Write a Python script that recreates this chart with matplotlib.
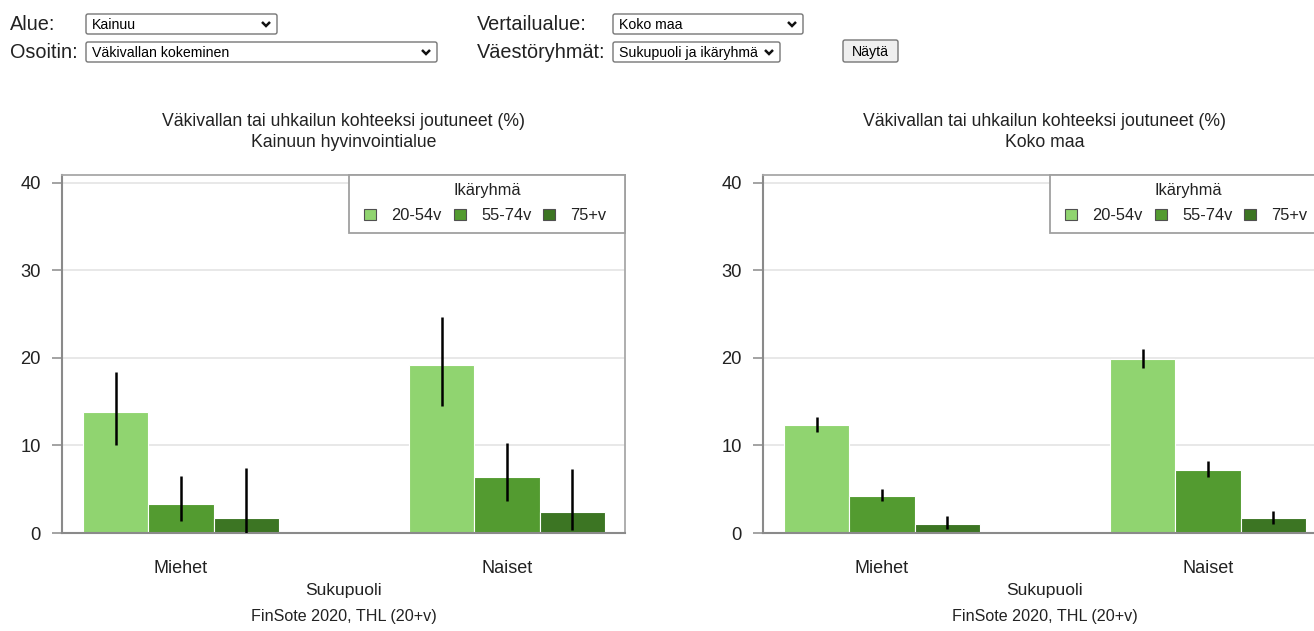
import matplotlib
matplotlib.use("Agg")
import matplotlib.pyplot as plt
import numpy as np
from matplotlib.patches import Rectangle, FancyBboxPatch

plt.rcParams["font.family"] = ["Liberation Sans", "DejaVu Sans"]

# ---- data -------------------------------------------------------------
groups = ["Miehet", "Naiset"]
age_groups = ["20-54v", "55-74v", "75+v"]
age_colors = ["#90d470", "#539b30", "#3c7523"]
y_ticks = [0, 10, 20, 30, 40]

# rows: age group, columns: Miehet / Naiset
kainuu_pct = [[13.8, 19.2], [3.3, 6.4], [1.7, 2.4]]
kainuu_low = [[10.1, 14.5], [1.4, 3.7], [0.0, 0.3]]
kainuu_high = [[18.4, 24.7], [6.5, 10.3], [7.4, 7.3]]

koko_pct = [[12.3, 19.9], [4.2, 7.2], [1.0, 1.7]]
koko_low = [[11.5, 18.9], [3.6, 6.4], [0.5, 1.0]]
koko_high = [[13.2, 21.0], [5.0, 8.2], [1.9, 2.5]]

indicator_title = "Väkivallan tai uhkailun kohteeksi joutuneet (%)"
area_names = ["Kainuun hyvinvointialue", "Koko maa"]
x_label = "Sukupuoli"
legend_title = "Ikäryhmä"
source_text = "FinSote 2020, THL (20+v)"

# ---- figure -----------------------------------------------------------
W, H = 1314, 631
fig = plt.figure(figsize=(W / 100, H / 100), dpi=100)
fig.patch.set_facecolor("white")


def add_px_axes(x0, y0, x1, y1):
    return fig.add_axes([x0 / W, 1 - y1 / H, (x1 - x0) / W, (y1 - y0) / H])


panel_boxes = [(62, 175, 625, 533), (763, 175, 1326, 533)]
panel_data = [
    (kainuu_pct, kainuu_low, kainuu_high),
    (koko_pct, koko_low, koko_high),
]

TXT = "#222222"
bar_w = 0.2
axes = []
for box, (pct, low, high) in zip(panel_boxes, panel_data):
    ax = add_px_axes(*box)
    axes.append(ax)
    x = np.arange(len(groups))
    for i, age in enumerate(age_groups):
        pos = x + (i - 1) * bar_w
        ax.bar(pos, pct[i], width=bar_w, color=age_colors[i],
               edgecolor="white", linewidth=0.8, zorder=2)
        ax.vlines(pos, low[i], high[i], color="black", lw=1.8, zorder=3)
    ax.set_xlim(-0.365, 1.362)
    ax.set_ylim(0, 40.91)
    ax.set_yticks(y_ticks)
    ax.set_xticks(x, groups)
    ax.set_axisbelow(True)
    ax.grid(axis="y", color="#e6e6e6", lw=1.3)
    ax.tick_params(axis="x", length=0, pad=19.5, labelsize=13.0, labelcolor=TXT)
    ax.tick_params(axis="y", length=7.2, width=1.1, color="#8a8a8a",
                   pad=8, labelsize=13.2, labelcolor=TXT)
    for side in ("left", "bottom"):
        ax.spines[side].set_color("#8a8a8a")
        ax.spines[side].set_linewidth(1.5)
    for side in ("top", "right"):
        ax.spines[side].set_color("#a8a8a8")
        ax.spines[side].set_linewidth(1.3)

# ---- overlay in pixel units for titles, legends and the form ----------
ov = fig.add_axes([0, 0, 1, 1], zorder=10)
ov.set_xlim(0, W)
ov.set_ylim(H, 0)
ov.axis("off")

for box, name in zip(panel_boxes, area_names):
    cx = (box[0] + box[2]) / 2
    ov.text(cx, 126, indicator_title, ha="center", va="baseline",
            fontsize=12.7, color=TXT, clip_on=False)
    ov.text(cx, 147, name, ha="center", va="baseline",
            fontsize=12.7, color=TXT, clip_on=False)
    ov.text(cx, 595, x_label, ha="center", va="baseline",
            fontsize=12.6, color=TXT, clip_on=False)
    ov.text(cx, 621, source_text, ha="center", va="baseline",
            fontsize=11.6, color=TXT, clip_on=False)

    # legend box anchored to the top-right corner of the plot area
    lx1 = box[2]
    lx0 = lx1 - 276
    ov.add_patch(Rectangle((lx0, 175), 276, 58, facecolor="white",
                           edgecolor="#a0a0a0", lw=1.3, clip_on=False, zorder=5))
    ov.text(lx0 + 138, 195, legend_title, ha="center", va="baseline",
            fontsize=11.8, color=TXT, clip_on=False, zorder=6)
    sq_offsets = [15, 105, 194]
    for off, age, col in zip(sq_offsets, age_groups, age_colors):
        ov.add_patch(Rectangle((lx0 + off, 208.5), 12, 11, facecolor=col,
                               edgecolor="#505050", lw=0.8, clip_on=False, zorder=6))
        ov.text(lx0 + off + 27, 220, age, ha="left", va="baseline",
                fontsize=11.8, color=TXT, clip_on=False, zorder=6)

# ---- selection form ----------------------------------------------------
form_labels = [("Alue:", 10, 30.5), ("Osoitin:", 10, 58.5),
               ("Vertailualue:", 477, 30.5), ("Väestöryhmät:", 477, 58.5)]
for txt, x0, yb in form_labels:
    ov.text(x0, yb, txt, ha="left", va="baseline", fontsize=14.3, color=TXT)

selects = [("Kainuu", 86, 14, 277, 34),
           ("Väkivallan kokeminen", 86, 42, 437, 62),
           ("Koko maa", 613, 14, 803, 34),
           ("Sukupuoli ja ikäryhmä", 613, 42, 780, 62)]
for txt, x0, y0, x1, y1 in selects:
    ov.add_patch(FancyBboxPatch((x0, y0), x1 - x0, y1 - y0,
                                boxstyle="round,pad=0,rounding_size=2",
                                facecolor="white", edgecolor="#767676", lw=1.0))
    ov.text(x0 + 6, y1 - 5, txt, ha="left", va="baseline", fontsize=10.2,
            color="black")
    cx, cy = x1 - 11, (y0 + y1) / 2
    ov.plot([cx - 4, cx, cx + 4], [cy - 2, cy + 2, cy - 2], color="#111111",
            lw=1.8, solid_capstyle="butt", solid_joinstyle="miter")

ov.add_patch(FancyBboxPatch((843, 40), 55, 22,
                            boxstyle="round,pad=0,rounding_size=2",
                            facecolor="#efefef", edgecolor="#767676", lw=1.0))
ov.text(870.5, 56, "Näytä", ha="center", va="baseline", fontsize=10.2,
        color="black")

fig.savefig("out.png", dpi=100, facecolor="white")
